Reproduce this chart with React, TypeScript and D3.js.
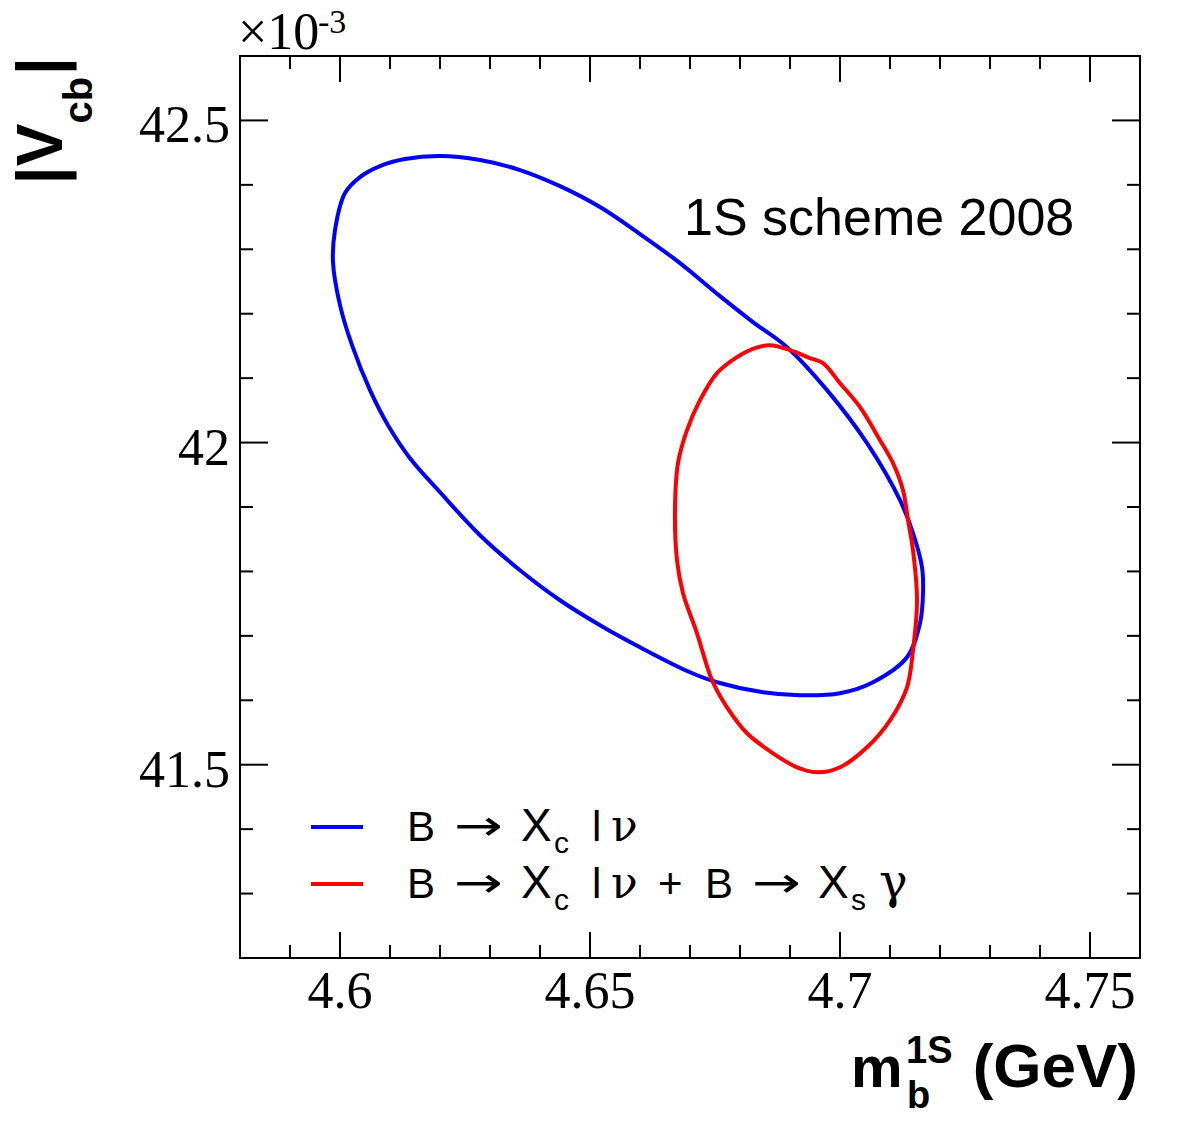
import React from 'react';
import * as d3 from 'd3';

// ---- axis definitions ----
const xDomain = [4.58, 4.76];
const yDomain = [41.2, 42.6];
const xMajorTicks = [4.6, 4.65, 4.7, 4.75];
const xTickLabels = ['4.6', '4.65', '4.7', '4.75'];
const xMinorTicks = [4.59, 4.61, 4.62, 4.63, 4.64, 4.66, 4.67, 4.68, 4.69, 4.71, 4.72, 4.73, 4.74];
const yMajorTicks = [41.5, 42.0, 42.5];
const yTickLabels = ['41.5', '42', '42.5'];
const yMinorTicks = [41.3, 41.4, 41.6, 41.7, 41.8, 41.9, 42.1, 42.2, 42.3, 42.4];

// ---- contour: B -> Xc l nu (blue) ----
const blueX = [4.62, 4.628, 4.636, 4.644, 4.652, 4.66, 4.668, 4.676, 4.6826, 4.6894, 4.6974, 4.7054, 4.712, 4.7146, 4.7164, 4.7166, 4.716, 4.7134, 4.7066, 4.70, 4.692, 4.6846, 4.6754, 4.67, 4.66, 4.652, 4.644, 4.636, 4.628, 4.62, 4.614, 4.6096, 4.606, 4.6024, 4.60, 4.5986, 4.599, 4.601, 4.604, 4.608, 4.613];
const blueY = [42.4447, 42.4385, 42.423, 42.398, 42.3655, 42.3236, 42.2786, 42.2273, 42.187, 42.1481, 42.0814, 41.9991, 41.9106, 41.8593, 41.8065, 41.7661, 41.7196, 41.6668, 41.628, 41.6109, 41.6078, 41.6124, 41.628, 41.6435, 41.6823, 41.7165, 41.7553, 41.8019, 41.8562, 41.923, 41.9758, 42.027, 42.0814, 42.1512, 42.2134, 42.2801, 42.3298, 42.3873, 42.4121, 42.4292, 42.4401];

// ---- contour: B -> Xc l nu + B -> Xs gamma (red) ----
const redX = [4.686, 4.69, 4.694, 4.6966, 4.70, 4.704, 4.708, 4.7106, 4.7126, 4.7136, 4.7146, 4.7154, 4.7146, 4.7134, 4.71, 4.7054, 4.70, 4.6956, 4.6914, 4.6866, 4.6814, 4.6774, 4.6744, 4.6714, 4.6686, 4.6674, 4.667, 4.6676, 4.6694, 4.672, 4.6754, 4.6794, 4.683];
const redY = [42.1512, 42.1435, 42.1311, 42.1233, 42.0922, 42.055, 42.0037, 41.968, 41.9261, 41.8795, 41.8329, 41.7553, 41.6776, 41.6202, 41.5689, 41.527, 41.496, 41.4882, 41.496, 41.5177, 41.5488, 41.5891, 41.6311, 41.704, 41.7661, 41.8174, 41.895, 41.968, 42.0193, 42.0658, 42.1078, 42.1326, 42.1466];

const seriesNames = ['B \u2192 X_c l \u03bd', 'B \u2192 X_c l \u03bd + B \u2192 X_s \u03b3'];
const seriesColors = ['#0000ff', '#ff0000'];

const W = 1200;
const H = 1141;
const L = 240, R = 1140, T = 56, B = 958;

const SANS = 'Liberation Sans, Arial, Helvetica, sans-serif';
const SERIF = 'Liberation Serif, Times New Roman, serif';
const GREEK = 'DejaVu Serif, Liberation Serif, serif';
const ARROW = 'DejaVu Sans, sans-serif';

export default function App() {
  const x = d3.scaleLinear().domain(xDomain).range([L, R]);
  const y = d3.scaleLinear().domain(yDomain).range([B, T]);
  const line = d3.line<[number, number]>()
    .x(d => x(d[0]))
    .y(d => y(d[1]))
    .curve(d3.curveCatmullRomClosed.alpha(0.5));
  const bluePts: [number, number][] = blueX.map((v, i) => [v, blueY[i]]);
  const redPts: [number, number][] = redX.map((v, i) => [v, redY[i]]);

  const majorLen = 26;
  const minorLen = 13;

  const legendRow = (row: number, baseY: number) => {
    const color = seriesColors[row];
    const items: JSX.Element[] = [];
    items.push(<line key="l" x1={311} x2={363} y1={baseY - 14} y2={baseY - 14} stroke={color} strokeWidth={4} />);
    const fs = 42;
    items.push(<text key="b1" x={407} y={baseY} fontFamily={SANS} fontSize={fs}>B</text>);
    items.push(<text key="a1" x={454} y={baseY - 1} fontFamily={ARROW} fontSize={fs} textLength={49} lengthAdjust="spacingAndGlyphs">{'\u2192'}</text>);
    items.push(<text key="x1" x={521} y={baseY} fontFamily={SANS} fontSize={46}>X</text>);
    items.push(<text key="c1" x={554} y={baseY + 12} fontFamily={SANS} fontSize={30}>c</text>);
    items.push(<text key="l1" x={592} y={baseY} fontFamily={SANS} fontSize={fs}>l</text>);
    items.push(<text key="n1" x={611} y={baseY} fontFamily={GREEK} fontSize={44}>{'\u03bd'}</text>);
    if (row === 1) {
      items.push(<text key="p" x={658} y={baseY} fontFamily={SANS} fontSize={fs}>+</text>);
      items.push(<text key="b2" x={705} y={baseY} fontFamily={SANS} fontSize={fs}>B</text>);
      items.push(<text key="a2" x={752} y={baseY - 1} fontFamily={ARROW} fontSize={fs} textLength={49} lengthAdjust="spacingAndGlyphs">{'\u2192'}</text>);
      items.push(<text key="x2" x={818} y={baseY} fontFamily={SANS} fontSize={46}>X</text>);
      items.push(<text key="s2" x={851} y={baseY + 12} fontFamily={SANS} fontSize={30}>s</text>);
      items.push(<text key="g2" x={879} y={baseY} fontFamily={GREEK} fontSize={48}>{'\u03b3'}</text>);
    }
    return <g key={'leg' + row} aria-label={seriesNames[row]}>{items}</g>;
  };

  return (
    <div style={{ position: 'absolute', left: 0, top: 0 }}>
      <svg width={W} height={H} viewBox={`0 0 ${W} ${H}`} xmlns="http://www.w3.org/2000/svg">
        <rect x={0} y={0} width={W} height={H} fill="#ffffff" />

        {/* contours */}
        <path d={line(bluePts) || ''} fill="none" stroke={seriesColors[0]} strokeWidth={4} strokeLinejoin="round" />
        <path d={line(redPts) || ''} fill="none" stroke={seriesColors[1]} strokeWidth={4} strokeLinejoin="round" />

        {/* frame */}
        <rect x={L} y={T} width={R - L} height={B - T} fill="none" stroke="#000" strokeWidth={2} />

        {/* x ticks bottom & top */}
        {xMajorTicks.map(v => (
          <g key={'xm' + v}>
            <line x1={x(v)} x2={x(v)} y1={B} y2={B - majorLen} stroke="#000" strokeWidth={2} />
            <line x1={x(v)} x2={x(v)} y1={T} y2={T + majorLen} stroke="#000" strokeWidth={2} />
          </g>
        ))}
        {xMinorTicks.map(v => (
          <g key={'xn' + v}>
            <line x1={x(v)} x2={x(v)} y1={B} y2={B - minorLen} stroke="#000" strokeWidth={2} />
            <line x1={x(v)} x2={x(v)} y1={T} y2={T + minorLen} stroke="#000" strokeWidth={2} />
          </g>
        ))}
        {/* y ticks left & right */}
        {yMajorTicks.map(v => (
          <g key={'ym' + v}>
            <line x1={L} x2={L + majorLen + 2} y1={y(v)} y2={y(v)} stroke="#000" strokeWidth={2} />
            <line x1={R} x2={R - majorLen - 2} y1={y(v)} y2={y(v)} stroke="#000" strokeWidth={2} />
          </g>
        ))}
        {yMinorTicks.map(v => (
          <g key={'yn' + v}>
            <line x1={L} x2={L + minorLen} y1={y(v)} y2={y(v)} stroke="#000" strokeWidth={2} />
            <line x1={R} x2={R - minorLen} y1={y(v)} y2={y(v)} stroke="#000" strokeWidth={2} />
          </g>
        ))}

        {/* tick labels */}
        {xMajorTicks.map((v, i) => (
          <text key={'xl' + v} x={x(v)} y={1008} textAnchor="middle" fontFamily={SERIF} fontSize={52}>{xTickLabels[i]}</text>
        ))}
        {yMajorTicks.map((v, i) => (
          <text key={'yl' + v} x={230} y={y(v) + 22} textAnchor="end" fontFamily={SERIF} fontSize={52}>{yTickLabels[i]}</text>
        ))}

        {/* exponent */}
        <text x={238} y={49} fontFamily={SERIF} fontSize={52}>{'\u00d710'}</text>
        <text x={318} y={33} fontFamily={SERIF} fontSize={34}>-3</text>

        {/* y title */}
        <g transform="translate(62,57) rotate(-90)">
          <text x={0} y={0} textAnchor="end" fontFamily={SANS} fontWeight="bold" fontSize={64}>
            <tspan>|V</tspan>
            <tspan fontSize={40} dy={30}>cb</tspan>
            <tspan dy={-30} dx={2}>|</tspan>
          </text>
        </g>

        {/* x title */}
        <text x={851} y={1087} fontFamily={SANS} fontWeight="bold" fontSize={58}>m</text>
        <text x={907} y={1108} fontFamily={SANS} fontWeight="bold" fontSize={38}>b</text>
        <text x={906} y={1063} fontFamily={SANS} fontWeight="bold" fontSize={38}>1S</text>
        <text x={1138} y={1087} textAnchor="end" fontFamily={SANS} fontWeight="bold" fontSize={62}>(GeV)</text>

        {/* annotation */}
        <text x={684} y={235} fontFamily={SANS} fontSize={52}>1S scheme 2008</text>

        {/* legend */}
        {legendRow(0, 841)}
        {legendRow(1, 898)}
      </svg>
    </div>
  );
}
